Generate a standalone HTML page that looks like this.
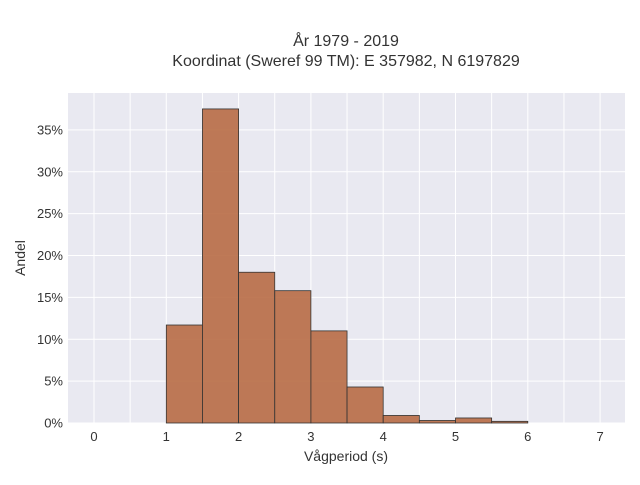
<!DOCTYPE html>
<html><head><meta charset="utf-8"><style>body{margin:0;background:#fff}svg{font-family:"Liberation Sans",sans-serif}</style></head>
<body>
<svg width="640" height="480" viewBox="0 0 640 480">
<g id="chart"></g>
</svg>
<script>
const binStarts=[1,1.5,2,2.5,3,3.5,4,4.5,5,5.5];
const shares=[11.7,37.5,18.0,15.8,11.0,4.3,0.9,0.3,0.6,0.2];
const xTicks=[0,1,2,3,4,5,6,7];
const yTicks=[0,5,10,15,20,25,30,35];
const binWidth=0.5;
const L=68,R=625,T=93,B=423;
const X=v=>94+v*72.3;
const Y=v=>B-v*8.375;
const g=document.getElementById('chart');
const NS='http://www.w3.org/2000/svg';
function mk(t,a,p){const e=document.createElementNS(NS,t);for(const k in a)e.setAttribute(k,a[k]);(p||g).appendChild(e);return e;}
let bg=mk('rect',{x:L,y:T,width:R-L,height:B-T,fill:'#e9e9f1'});


for(let v=-0.5;v<=7.5;v+=0.5){const x=X(v);if(x<L||x>R)continue;let l=mk('line',{x1:x,x2:x,y1:T,y2:B,stroke:'#fff','stroke-width':1});

}
yTicks.forEach(v=>{let l=mk('line',{x1:L,x2:R,y1:Y(v),y2:Y(v),stroke:'#fff','stroke-width':1});


let t=mk('text',{x:L-5,y:Y(v)+4.5,'text-anchor':'end','font-size':13,fill:'#333'});t.textContent=v+'%';

});
xTicks.forEach(v=>{let t=mk('text',{x:X(v),y:B+18,'text-anchor':'middle','font-size':13,fill:'#333'});t.textContent=v;

});
binStarts.forEach((s,i)=>{const x0=X(s),x1=X(s+binWidth);let r=mk('rect',{x:x0,y:Y(shares[i]),width:x1-x0,height:B-Y(shares[i]),fill:'#b86b45','fill-opacity':0.9,stroke:'#333','stroke-width':0.8});

});
function txt(s,a,n){let t=mk('text',a);t.textContent=s;return t;}
txt('År 1979 - 2019',{x:346,y:46,'text-anchor':'middle','font-size':16,fill:'#333'},'chart-title');
txt('Koordinat (Sweref 99 TM): E 357982, N 6197829',{x:346,y:66,'text-anchor':'middle','font-size':16,fill:'#333'},'chart-subtitle');
txt('Vågperiod (s)',{x:346,y:461,'text-anchor':'middle','font-size':14,fill:'#333'},'x-axis-title');
txt('Andel',{x:25,y:258,'text-anchor':'middle','font-size':14,fill:'#333',transform:'rotate(-90 25 258)'},'y-axis-title');
</script>
</body></html>
